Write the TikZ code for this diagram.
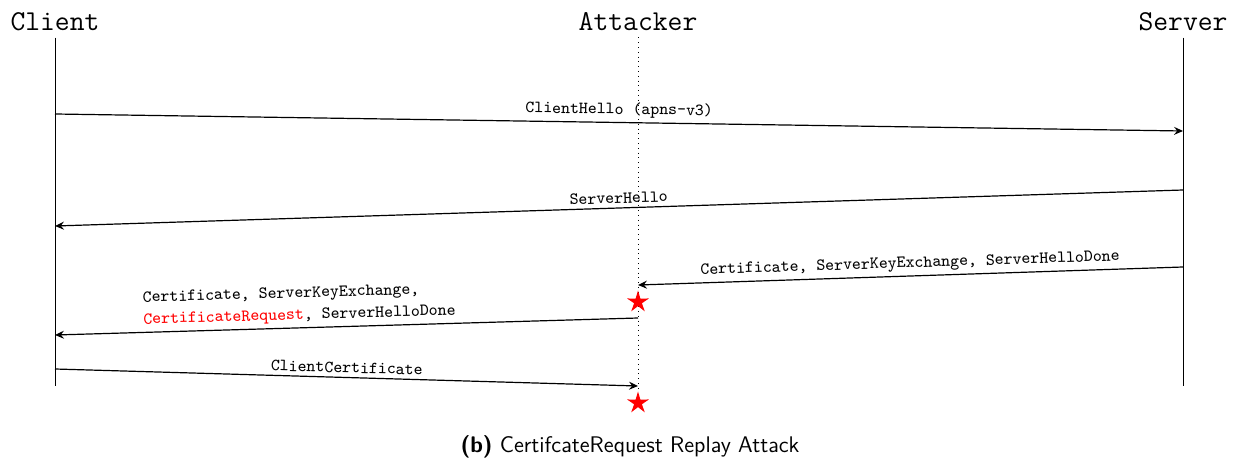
\documentclass[tikz,border=0pt]{standalone}
\usepackage{tikz}
\usetikzlibrary{shapes.geometric,arrows.meta}
\definecolor{colATK}{RGB}{255,0,0}

\begin{document}
\begin{tikzpicture}[x=0.5pt, y=0.5pt,
    actor/.style={font=\Large\ttfamily, inner sep=0pt},
    msg/.style={-{Stealth[length=4.5pt, width=4pt, inset=1.6pt]}, semithick},
    lbl/.style={font=\fontsize{8.5}{11}\selectfont\ttfamily, sloped, above, inner sep=2pt},
    hit/.style={star, star points=5, star point ratio=2.8, fill=colATK, inner sep=0pt, minimum size=11.5pt}]
  \useasboundingbox (0,0) rectangle (1238,461);
  % Actors
  \node[actor] (client) at (55,439) {Client};
  \node[actor] (attacker) at (638,439) {Attacker};
  \node[actor] (server) at (1183,439) {Server};
  % Lifelines
  \coordinate (clientEnd) at (55,75);
  \coordinate (attackerEnd) at (638,69);
  \coordinate (serverEnd) at (1183,75);
  \draw[line width=0.5pt] (client.south) ++(0,-6) coordinate (clientTop) -- (clientEnd);
  \draw[line width=0.5pt] (server.south) ++(0,-6) coordinate (serverTop) -- (serverEnd);
  \draw[dotted] (attacker.south) ++(0,-6) coordinate (attackerTop) -- (attackerEnd);
  % Message end points
  \coordinate (c1) at (55,347);   \coordinate (s1) at (1183,330);
  \coordinate (s2) at (1183,271); \coordinate (c2) at (55,235);
  \coordinate (s3) at (1183,194); \coordinate (a3) at (638,176);
  \coordinate (a4) at (638,143);  \coordinate (c4) at (55,126);
  \coordinate (c5) at (55,92);    \coordinate (a5) at (638,75);
  % Messages
  \draw[msg] (c1) -- node[lbl] {ClientHello (apns-v3)} (s1);
  \draw[msg] (s2) -- node[lbl] {ServerHello} (c2);
  \draw[msg] (s3) -- node[lbl] {Certificate, ServerKeyExchange, ServerHelloDone} (a3);
  \draw[msg] (a4) -- node[lbl, pos=0.58, align=left]
    {Certificate, ServerKeyExchange,\\\textcolor{colATK}{CertificateRequest}, ServerHelloDone} (c4);
  \draw[msg] (c5) -- node[lbl] {ClientCertificate} (a5);
  % Replayed messages
  \node[hit] (star1) at (638,159) {};
  \node[hit] (star2) at (638,58) {};
  % Caption
  \node[font=\fontsize{11.3}{13}\selectfont\sffamily] (caption) at (630,14) {\textbf{(b)} CertifcateRequest Replay Attack};
\end{tikzpicture}
\end{document}
